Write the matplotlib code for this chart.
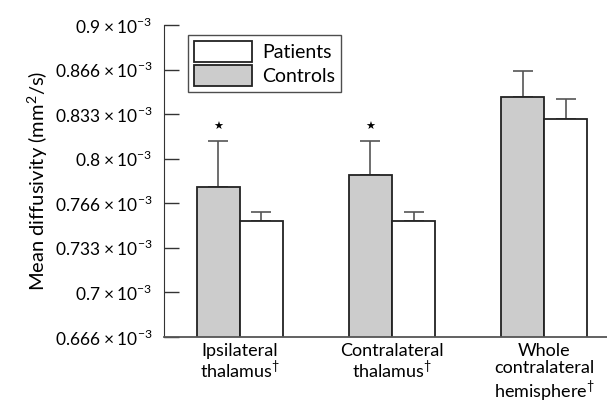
import numpy as np
import matplotlib
matplotlib.use("Agg")
import matplotlib.pyplot as plt

plt.rcParams['font.family'] = ['Lato', 'DejaVu Sans']
plt.rcParams['mathtext.fontset'] = 'custom'
plt.rcParams['mathtext.rm'] = 'Lato'

# values in units of 1e-3 mm^2/s
regions = ['Ipsilateral\nthalamus$^{\\dagger}$', 'Contralateral\nthalamus$^{\\dagger}$',
           'Whole\ncontralateral\nhemisphere$^{\\dagger}$']
controls = [0.7786, 0.7878, 0.8459]
controls_err = [0.0346, 0.0254, 0.0197]
patients = [0.7531, 0.7531, 0.8297]
patients_err = [0.0069, 0.0069, 0.0147]
significant = [True, True, False]

yticks = [2/3, 0.7, 0.7333, 0.7667, 0.8, 0.8333, 0.8667, 0.9]
ytick_labels = ['0.666', '0.7', '0.733', '0.766', '0.8', '0.833', '0.866', '0.9']

fig = plt.figure(figsize=(6.07, 4.05), dpi=100)
ax = fig.add_axes([0.270, 0.168, 0.730, 0.770])

x = np.arange(len(regions))
w = 0.283
ekw = dict(ecolor='#555555', elinewidth=1.2, capsize=7, capthick=1.2)
ax.bar(x - w/2, controls, w, color='#cccccc', edgecolor='#222222', linewidth=1.3,
       label='Controls', zorder=2)
ax.bar(x + w/2, patients, w, color='white', edgecolor='#222222', linewidth=1.3,
       label='Patients', zorder=2)
ax.errorbar(x - w/2, controls, yerr=[np.zeros(3), controls_err], fmt='none', zorder=1, **ekw)
ax.errorbar(x + w/2, patients, yerr=[np.zeros(3), patients_err], fmt='none', zorder=1, **ekw)

for i, s in enumerate(significant):
    if s:
        ax.text(x[i] - w/2, controls[i] + controls_err[i] + 0.007, '\u2605',
                ha='center', va='bottom', fontsize=8, family='DejaVu Sans')

ax.set_xlim(-0.5, 2.414)
ax.set_ylim(2/3, 0.9)
ax.set_yticks(yticks)
ax.set_yticklabels([l + r' $\times\,10^{-3}$' for l in ytick_labels], fontsize=12.5)
ax.tick_params(axis='y', direction='in', length=11, width=1, color='#333333', pad=8)
ax.set_xticks(x)
ax.set_xticklabels(regions, fontsize=13, linespacing=1.0)
ax.get_xticklabels()[2].set_linespacing(1.1)
ax.tick_params(axis='x', length=0, pad=4)
ax.set_ylabel('Mean diffusivity (mm$^2$/s)', fontsize=14.5, labelpad=4)

for side in ['top', 'right']:
    ax.spines[side].set_visible(False)
ax.spines['left'].set_color('#333333')
ax.spines['bottom'].set_color('#555555')
ax.spines['bottom'].set_linewidth(1.3)

h, l = ax.get_legend_handles_labels()
leg = ax.legend(h[::-1], l[::-1], loc='upper left', bbox_to_anchor=(0.055, 0.967),
                fontsize=14, fancybox=False, edgecolor='#222222', handlelength=3.0,
                handleheight=1.3, borderpad=0.3, labelspacing=0.12, handletextpad=0.5,
                borderaxespad=0)
leg.get_frame().set_linewidth(1.0)

fig.savefig('out.png', dpi=100)
